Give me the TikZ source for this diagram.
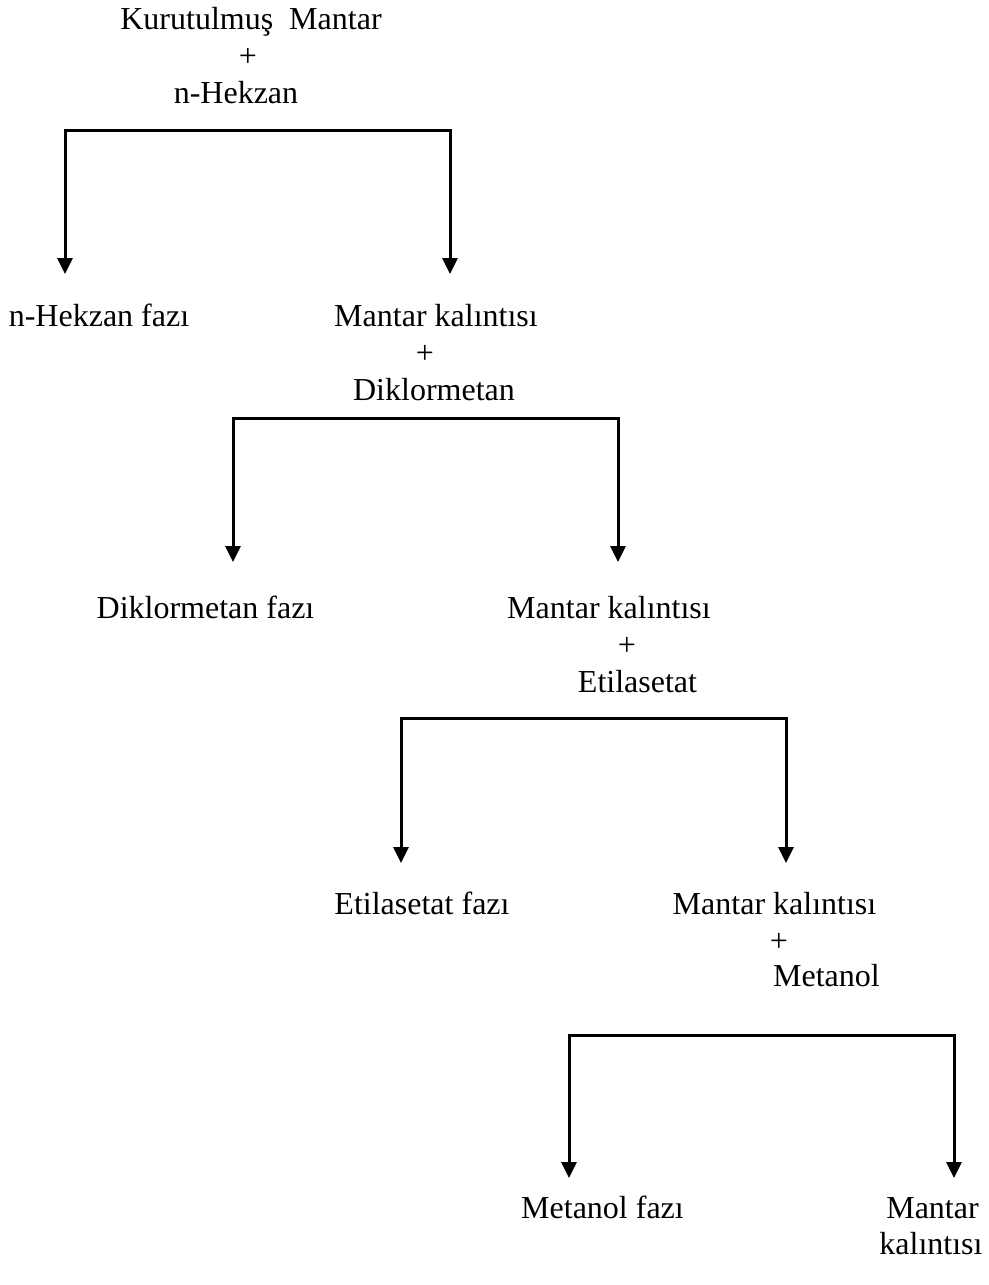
\documentclass[tikz,border=0pt]{standalone}
\usepackage{fontspec}
\setmainfont{Liberation Serif}
\usetikzlibrary{arrows.meta}
\begin{document}
\begin{tikzpicture}[x=1pt,y=-1pt,
  lbl/.style={anchor=base,inner sep=0pt,font=\fontsize{32}{37}\selectfont},
  bar/.style={line width=3pt,line cap=butt,line join=miter},
  arr/.style={line width=3pt,-{Triangle[length=16pt,width=15pt]}}]
\useasboundingbox (0,0) rectangle (988,1285);
% level 0
\node[lbl] (k0a) at (251,29) {Kurutulmuş\ \ Mantar};
\node[lbl] (k0b) at (248,66) {+};
\node[lbl] (k0c) at (236,103) {n-Hekzan};
% bracket 1
\coordinate (b1l) at (65,130);
\coordinate (b1r) at (450,130);
\coordinate (t1l) at (65,274);
\coordinate (t1r) at (450,274);
\draw[bar] ([xshift=-1.5pt]b1l) -- ([xshift=1.5pt]b1r);
\draw[arr] ([yshift=-1.5pt]b1l) -- (t1l);
\draw[arr] ([yshift=-1.5pt]b1r) -- (t1r);
% level 1
\node[lbl] (h1) at (99,326) {n-Hekzan fazı};
\node[lbl] (k1a) at (436,326) {Mantar kalıntısı};
\node[lbl] (k1b) at (425,363) {+};
\node[lbl] (k1c) at (434,400) {Diklormetan};
% bracket 2
\coordinate (b2l) at (233,418);
\coordinate (b2r) at (618,418);
\coordinate (t2l) at (233,562);
\coordinate (t2r) at (618,562);
\draw[bar] ([xshift=-1.5pt]b2l) -- ([xshift=1.5pt]b2r);
\draw[arr] ([yshift=-1.5pt]b2l) -- (t2l);
\draw[arr] ([yshift=-1.5pt]b2r) -- (t2r);
% level 2
\node[lbl] (d2) at (205.5,618) {Diklormetan fazı};
\node[lbl] (k2a) at (609,618) {Mantar kalıntısı};
\node[lbl] (k2b) at (627,655) {+};
\node[lbl] (k2c) at (637.5,692) {Etilasetat};
% bracket 3
\coordinate (b3l) at (401,718);
\coordinate (b3r) at (786,718);
\coordinate (t3l) at (401,863);
\coordinate (t3r) at (786,863);
\draw[bar] ([xshift=-1.5pt]b3l) -- ([xshift=1.5pt]b3r);
\draw[arr] ([yshift=-1.5pt]b3l) -- (t3l);
\draw[arr] ([yshift=-1.5pt]b3r) -- (t3r);
% level 3
\node[lbl] (e3) at (422,914) {Etilasetat fazı};
\node[lbl] (k3a) at (774.5,914) {Mantar kalıntısı};
\node[lbl] (k3b) at (779,951) {+};
\node[lbl] (k3c) at (826.5,986) {Metanol};
% bracket 4
\coordinate (b4l) at (569,1035);
\coordinate (b4r) at (954,1035);
\coordinate (t4l) at (569,1178);
\coordinate (t4r) at (954,1178);
\draw[bar] ([xshift=-1.5pt]b4l) -- ([xshift=1.5pt]b4r);
\draw[arr] ([yshift=-1.5pt]b4l) -- (t4l);
\draw[arr] ([yshift=-1.5pt]b4r) -- (t4r);
% level 4
\node[lbl] (m4) at (602.5,1218) {Metanol fazı};
\node[lbl] (k4a) at (932.5,1218) {Mantar};
\node[lbl] (k4b) at (931,1254) {kalıntısı};
\end{tikzpicture}
\end{document}
